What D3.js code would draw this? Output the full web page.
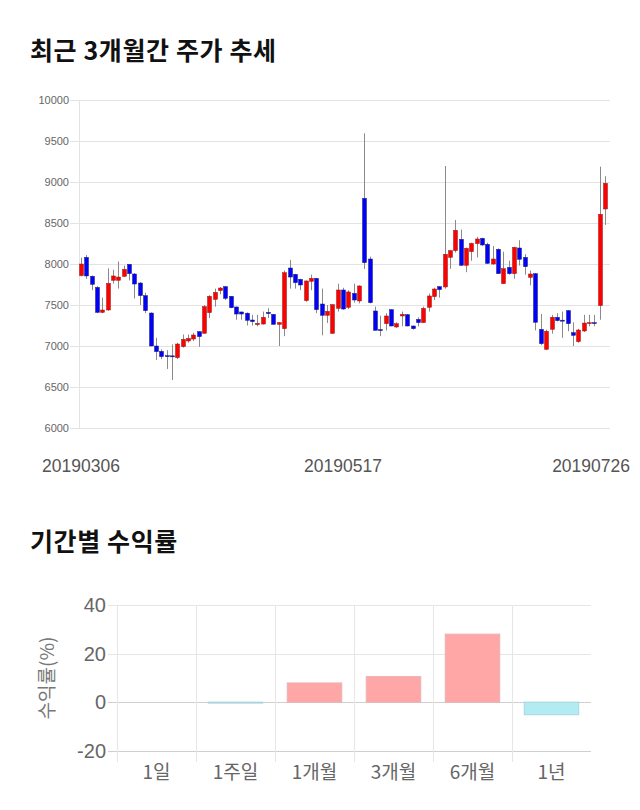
<!DOCTYPE html>
<html>
<head>
<meta charset="utf-8">
<script src="https://cdn.jsdelivr.net/npm/d3@7"></script>
<style>
  body { margin: 0; background: #fff; }
  svg { display: block; }
</style>
</head>
<body>
<div id="chart"></div>
<script>
// 시세 데이터 (시가, 고가, 저가, 종가)
const openPrices = [7858,8081,7850,7715,7410,7439,7801,7801,7850,7996,7878,7768,7614,7402,7000,6935,6882,6880,6858,6992,
  7061,7085,7175,7155,7406,7569,7675,7724,7606,7476,7415,7400,7317,7260,7268,7410,7386,7264,7211,7951,
  7874,7813,7553,7789,7825,7512,7374,7154,7459,7683,7472,7642,7549,8801,8061,7427,7200,7272,7443,7232,
  7366,7382,7244,7325,7285,7472,7602,7724,7720,8081,8163,8301,7984,8150,8248,8313,8240,8000,8179,7760,
  7959,7882,8195,8081,7837,7882,7203,6960,7203,7350,7315,7431,7163,7053,7183,7285,7285,7492,8671];
const highPrices = [8077,8110,7860,7730,7589,7947,7930,8030,7980,8000,7890,7780,7650,7410,7100,6960,6950,7020,7040,7140,
  7140,7160,7180,7500,7620,7700,7720,7730,7610,7480,7420,7410,7380,7380,7420,7460,7390,7290,7920,8050,
  7880,7820,7800,7870,7830,7700,7500,7510,7760,7710,7680,7760,7740,9594,8090,7480,7370,7400,7450,7290,
  7420,7390,7250,7350,7480,7640,7710,7730,9195,8170,8537,8420,8200,8260,8330,8320,8260,8220,8190,8150,
  8040,8210,8290,8120,7920,7890,7390,7200,7380,7400,7420,7440,7290,7210,7380,7380,7380,9187,9070];
const lowPrices = [7850,7817,7680,7400,7400,7430,7760,7700,7840,7800,7580,7500,7400,6995,6830,6840,6720,6585,6840,6980,
  7040,7060,6990,7150,7340,7480,7630,7560,7460,7320,7320,7250,7250,7240,7260,7340,7260,7000,7120,7700,
  7700,7680,7540,7680,7400,7130,7280,7150,7420,7440,7450,7530,7520,7940,7520,7190,7120,7190,7240,7220,
  7240,7240,7200,7240,7280,7420,7560,7590,7700,7940,8140,7980,7900,8040,8080,8220,8000,7990,7880,7760,
  7870,7820,7980,7870,7740,7190,7010,6950,7150,7300,7100,7180,7000,7040,7170,7240,7240,7320,8476];
const closePrices = [8000,7854,7752,7410,7439,7764,7854,7841,7935,7882,7756,7614,7431,7000,6931,6870,6880,6875,7024,7081,
  7093,7134,7114,7480,7606,7654,7707,7581,7467,7390,7390,7313,7297,7276,7350,7395,7264,7285,7894,7841,
  7772,7744,7793,7825,7443,7374,7423,7504,7683,7451,7659,7561,7732,8016,7528,7191,7191,7366,7244,7272,
  7386,7244,7211,7285,7459,7610,7695,7687,8118,8163,8411,7984,8191,8252,8305,8232,8008,8061,7882,7943,
  7882,8203,8057,7967,7878,7289,7028,7179,7350,7309,7305,7272,7130,7195,7280,7285,7280,8606,8984];

const priceTicks = [6000, 6500, 7000, 7500, 8000, 8500, 9000, 9500, 10000];
const dateLabels = ["20190306", "20190517", "20190726"];
const dateLabelIndex = [0, 49, 98];

// 기간별 수익률
const periods = ["1일", "1주일", "1개월", "3개월", "6개월", "1년"];
const returns = [0, -0.4, 7.9, 10.5, 28.0, -5.2];
const returnTicks = [-20, 0, 20, 40];

const width = 640, height = 810;
const numFont = "'Liberation Sans', Arial, 'Noto Sans CJK KR', sans-serif";
const korFont = "'Noto Sans CJK KR', 'Noto Sans', sans-serif";

const svg = d3.select("#chart").append("svg")
  .attr("width", width)
  .attr("height", height);

// 제목
svg.append("text")
  .attr("x", 30).attr("y", 60)
  .style("font-family", korFont)
  .style("font-weight", "bold")
  .style("font-size", "25px")
  .style("letter-spacing", "0.6px")
  .style("fill", "#111")
  .text("최근 3개월간 주가 추세");

svg.append("text")
  .attr("x", 30).attr("y", 551)
  .style("font-family", korFont)
  .style("font-weight", "bold")
  .style("font-size", "25px")
  .style("letter-spacing", "0.6px")
  .style("fill", "#111")
  .text("기간별 수익률");

// ---- 캔들 차트 ----
const n = closePrices.length;
const x = d3.scalePoint().domain(d3.range(n)).range([81, 605]);
const y = d3.scaleLinear().domain([6000, 10000]).range([428, 100]);

const grid = svg.append("g");
grid.selectAll("line")
  .data(priceTicks)
  .join("line")
  .attr("x1", 70).attr("x2", 610)
  .attr("y1", d => Math.round(y(d)) + 0.5)
  .attr("y2", d => Math.round(y(d)) + 0.5)
  .style("stroke", "#e3e3e3");

svg.append("line")
  .attr("x1", 79.5).attr("x2", 79.5)
  .attr("y1", 100).attr("y2", 428)
  .style("stroke", "#e3e3e3");

svg.append("g").selectAll("text")
  .data(priceTicks)
  .join("text")
  .attr("x", 69)
  .attr("y", d => y(d) + 4)
  .style("text-anchor", "end")
  .style("font-family", numFont)
  .style("font-size", "11px")
  .style("fill", "#666")
  .text(d => d);

svg.append("g").selectAll("text")
  .data(dateLabels)
  .join("text")
  .attr("x", (d, i) => i === dateLabels.length - 1 ? 630 : x(dateLabelIndex[i]))
  .attr("y", 472)
  .style("text-anchor", (d, i) => i === dateLabels.length - 1 ? "end" : "middle")
  .style("font-family", numFont)
  .style("font-size", "17.5px")
  .style("fill", "#555")
  .text(d => d);

const candles = svg.append("g")
  .selectAll("g")
  .data(d3.range(n))
  .join("g");

candles.append("line")
  .attr("x1", i => Math.round(x(i)) + 0.5)
  .attr("x2", i => Math.round(x(i)) + 0.5)
  .attr("y1", i => y(highPrices[i]))
  .attr("y2", i => y(lowPrices[i]))
  .style("stroke", "#8a8a8a");

candles.append("rect")
  .attr("x", i => Math.round(x(i)) - 1.5)
  .attr("width", 4)
  .attr("y", i => y(Math.max(openPrices[i], closePrices[i])))
  .attr("height", i => Math.max(1, Math.abs(y(openPrices[i]) - y(closePrices[i]))))
  .style("fill", i => closePrices[i] >= openPrices[i] ? "#ff0000" : "#0000ff")
  .style("stroke", i => closePrices[i] >= openPrices[i] ? "#8b2020" : "#20206b")
  .style("stroke-width", 0.5);

// ---- 수익률 막대 차트 ----
const bx = d3.scaleBand().domain(periods).range([117, 591]).paddingInner(0.31).paddingOuter(0.155);
const by = d3.scaleLinear().domain([-20, 40]).range([750.7, 605]);
const step = bx.step();

svg.append("g").selectAll("line")
  .data(returnTicks)
  .join("line")
  .attr("x1", 108).attr("x2", 591)
  .attr("y1", d => Math.round(by(d)) + 0.5)
  .attr("y2", d => Math.round(by(d)) + 0.5)
  .style("stroke", d => d === 0 || d === -20 ? "#cfcfcf" : "#e6e6e6");

svg.append("g").selectAll("line")
  .data(d3.range(periods.length))
  .join("line")
  .attr("x1", i => Math.round(117 + i * step) + 0.5)
  .attr("x2", i => Math.round(117 + i * step) + 0.5)
  .attr("y1", 605).attr("y2", 762)
  .style("stroke", "#e6e6e6");

svg.append("g").selectAll("text")
  .data(returnTicks)
  .join("text")
  .attr("x", 106)
  .attr("y", d => by(d) + 7)
  .style("text-anchor", "end")
  .style("font-family", numFont)
  .style("font-size", "20px")
  .style("fill", "#666")
  .text(d => d);

svg.append("g").selectAll("rect")
  .data(periods)
  .join("rect")
  .attr("x", d => bx(d))
  .attr("width", bx.bandwidth())
  .attr("y", (d, i) => by(Math.max(0, returns[i])))
  .attr("height", (d, i) => Math.abs(by(returns[i]) - by(0)))
  .style("fill", (d, i) => returns[i] >= 0 ? "#ffa6a6" : "#b2ebf2")
  .style("stroke", (d, i) => returns[i] >= 0 ? "#e9b3b3" : "#a9d6dc")
  .style("stroke-width", 1);

svg.append("g").selectAll("text")
  .data(periods)
  .join("text")
  .attr("x", d => bx(d) + bx.bandwidth() / 2)
  .attr("y", 779)
  .style("text-anchor", "middle")
  .style("font-family", korFont)
  .style("font-size", "19px")
  .style("fill", "#666")
  .text(d => d);

svg.append("text")
  .attr("transform", "translate(54,678) rotate(-90)")
  .style("text-anchor", "middle")
  .style("font-family", korFont)
  .style("font-size", "19px")
  .style("fill", "#777")
  .text("수익률(%)");
</script>
</body>
</html>
